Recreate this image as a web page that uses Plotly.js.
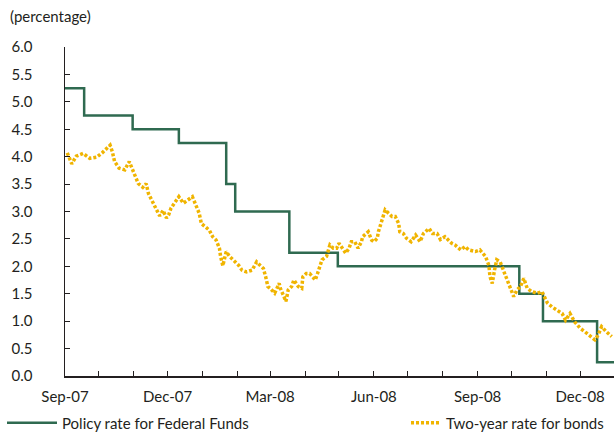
<!DOCTYPE html>
<html>
<head>
<meta charset="utf-8">
<script src="https://cdn.plot.ly/plotly-3.0.1.min.js"></script>
<style>html,body{margin:0;padding:0;background:#fff;}#chart{width:614px;height:433px;}</style>
</head>
<body>
<div id="chart"></div>
<script>
var policyDates = ['2007-09-01','2007-09-18','2007-10-31','2007-12-11','2008-01-22','2008-01-30','2008-03-18','2008-04-30','2008-10-08','2008-10-29','2008-12-16','2008-12-31'];
var policyRates = [5.25,4.75,4.50,4.25,3.50,3.00,2.25,2.00,1.50,1.00,0.25,0.25];

var bondDates = ['2007-09-03','2007-09-07','2007-09-11','2007-09-17','2007-09-23','2007-09-29','2007-10-04','2007-10-08','2007-10-11','2007-10-13','2007-10-15','2007-10-19','2007-10-24','2007-10-28','2007-11-02','2007-11-05','2007-11-09','2007-11-12','2007-11-14','2007-11-18','2007-11-21','2007-11-24','2007-11-27','2007-11-30','2007-12-02','2007-12-04','2007-12-07','2007-12-11','2007-12-15','2007-12-19','2007-12-23','2007-12-26','2007-12-29','2007-12-31','2008-01-04','2008-01-07','2008-01-10','2008-01-13','2008-01-16','2008-01-17','2008-01-19','2008-01-22','2008-01-25','2008-01-28','2008-02-02','2008-02-05','2008-02-09','2008-02-14','2008-02-18','2008-02-21','2008-02-24','2008-02-26','2008-02-28','2008-03-01','2008-03-05','2008-03-09','2008-03-10','2008-03-13','2008-03-15','2008-03-17','2008-03-20','2008-03-22','2008-03-26','2008-03-29','2008-03-30','2008-04-02','2008-04-05','2008-04-08','2008-04-10','2008-04-12','2008-04-14','2008-04-16','2008-04-20','2008-04-23','2008-04-26','2008-04-29','2008-05-01','2008-05-04','2008-05-07','2008-05-10','2008-05-12','2008-05-15','2008-05-18','2008-05-21','2008-05-22','2008-05-27','2008-05-30','2008-06-01','2008-06-04','2008-06-05','2008-06-07','2008-06-09','2008-06-11','2008-06-14','2008-06-17','2008-06-20','2008-06-23','2008-06-24','2008-06-27','2008-06-30','2008-07-04','2008-07-08','2008-07-12','2008-07-15','2008-07-18','2008-07-20','2008-07-23','2008-07-27','2008-07-30','2008-08-03','2008-08-06','2008-08-09','2008-08-12','2008-08-17','2008-08-21','2008-08-24','2008-08-30','2008-09-03','2008-09-08','2008-09-11','2008-09-12','2008-09-14','2008-09-16','2008-09-18','2008-09-21','2008-09-24','2008-09-27','2008-09-30','2008-10-03','2008-10-06','2008-10-09','2008-10-12','2008-10-15','2008-10-19','2008-10-24','2008-10-28','2008-11-02','2008-11-06','2008-11-10','2008-11-15','2008-11-18','2008-11-22','2008-11-26','2008-12-01','2008-12-05','2008-12-09','2008-12-14','2008-12-17','2008-12-20','2008-12-24','2008-12-29'];
var bondRates = [4.07,3.87,4.01,4.06,3.97,3.99,4.07,4.14,4.21,4.09,3.91,3.79,3.76,3.91,3.68,3.51,3.44,3.51,3.33,3.18,3.04,2.92,3.02,2.88,2.94,3.06,3.15,3.27,3.15,3.21,3.27,3.12,2.97,2.78,2.72,2.66,2.54,2.48,2.33,2.18,2.01,2.27,2.18,2.12,2.02,1.93,1.90,1.93,2.08,2.02,1.96,1.81,1.63,1.60,1.51,1.69,1.60,1.46,1.36,1.57,1.63,1.75,1.63,1.60,1.81,1.87,1.87,1.80,1.75,1.87,1.99,2.12,2.18,2.39,2.33,2.33,2.42,2.33,2.24,2.33,2.45,2.45,2.33,2.45,2.54,2.63,2.48,2.45,2.51,2.63,2.78,2.94,3.03,2.97,2.91,2.91,2.78,2.63,2.60,2.51,2.45,2.57,2.45,2.60,2.66,2.69,2.60,2.60,2.49,2.54,2.48,2.42,2.39,2.30,2.36,2.30,2.27,2.30,2.18,2.02,1.81,1.69,1.93,2.12,2.08,1.93,1.78,1.63,1.45,1.57,1.63,1.78,1.60,1.54,1.51,1.54,1.33,1.26,1.20,1.14,1.02,1.14,0.99,0.87,0.81,0.75,0.66,0.75,0.90,0.81,0.72];

var seriesNames = ['Policy rate for Federal Funds', 'Two-year rate for bonds'];
var yTitle = '(percentage)';

var FONT = 'Lato, "DejaVu Sans", sans-serif';
var TXT = '#231f20';

var traces = [
  {
    x: policyDates, y: policyRates, name: seriesNames[0], type: 'scatter', mode: 'lines',
    line: {shape: 'hv', color: '#2f6a50', width: 2.5},
    legend: 'legend'
  },
  {
    x: bondDates, y: bondRates, name: seriesNames[1], type: 'scatter', mode: 'lines',
    line: {color: '#f0b400', width: 3.5, dash: '3px,2px'},
    legend: 'legend2'
  }
];

var layout = {
  width: 614, height: 433,
  margin: {l: 65, r: 0, t: 47, b: 57, autoexpand: false},
  paper_bgcolor: '#fff', plot_bgcolor: '#fff',
  font: {family: FONT, size: 15, color: TXT},
  showlegend: true,
  title: {text: yTitle, x: 10/614, xanchor: 'left', xref: 'container', y: 1 - 17/433, yref: 'container', yanchor: 'middle', font: {family: FONT, size: 15, color: TXT}},
  xaxis: {
    type: 'date', range: ['2007-09-01', '2008-12-31'],
    tick0: '2007-09-01', dtick: 'M3', tickformat: '%b-%y',
    ticks: 'inside', ticklen: 5, tickcolor: TXT, tickwidth: 1,
    minor: {dtick: 'M1', ticks: 'inside', ticklen: 5, tickcolor: TXT, tickwidth: 1},
    showline: true, linecolor: TXT, linewidth: 1.5,
    showgrid: false, zeroline: false, automargin: false,
    ticklabelstandoff: 6,
    tickfont: {family: FONT, size: 15, color: TXT}
  },
  yaxis: {
    range: [0, 6], dtick: 0.5, tick0: 0, tickformat: '.1f',
    ticks: 'inside', ticklen: 5, tickcolor: TXT, tickwidth: 1,
    showline: true, linecolor: TXT, linewidth: 1.5,
    showgrid: false, zeroline: false, automargin: false,
    ticklabelstandoff: 28,
    tickfont: {family: FONT, size: 15, color: TXT}
  },
  legend: {
    orientation: 'h', x: -63/549, xanchor: 'left', y: -30.5/329, yanchor: 'top',
    itemwidth: 50, font: {family: FONT, size: 15, color: TXT}, bgcolor: 'rgba(0,0,0,0)'
  },
  legend2: {
    orientation: 'h', x: (406-65)/549, xanchor: 'left', y: -30.5/329, yanchor: 'top',
    itemwidth: 30, font: {family: FONT, size: 15, color: TXT}, bgcolor: 'rgba(0,0,0,0)'
  }
};

Plotly.newPlot('chart', traces, layout, {staticPlot: true, displayModeBar: false});
</script>
</body>
</html>
